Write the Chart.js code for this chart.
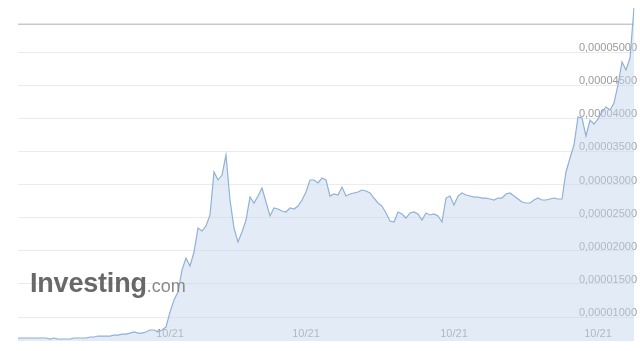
<!DOCTYPE html>
<html>
<head>
<meta charset="utf-8">
<script src="https://cdn.jsdelivr.net/npm/chart.js@4"></script>
<style>
  html, body { margin: 0; padding: 0; background: #fff; }
  #wrap { position: relative; width: 640px; height: 351px; }
  #logo { position: absolute; left: 30px; top: 268px; font-family: "Liberation Sans", Arial, sans-serif; white-space: nowrap; }
  #logo b { font-size: 27px; color: #686868; font-weight: 700; letter-spacing: -0.2px; }
  #logo span { font-size: 18px; color: #8a8a8a; }
</style>
</head>
<body>
<div id="wrap">
  <canvas id="chart"></canvas>
  <div id="logo"><b>Investing</b><span>.com</span></div>
</div>
<script>
// 価格データ（チャートから読み取った値）
const prices = [
  6.83e-6, 6.83e-6, 6.83e-6, 6.83e-6, 6.83e-6, 6.83e-6, 6.83e-6, 6.83e-6, 6.68e-6, 6.83e-6,
  6.68e-6, 6.68e-6, 6.68e-6, 6.68e-6, 6.83e-6, 6.83e-6, 6.83e-6, 6.83e-6, 6.98e-6, 6.98e-6,
  7.13e-6, 7.13e-6, 7.13e-6, 7.13e-6, 7.28e-6, 7.28e-6, 7.43e-6, 7.43e-6, 7.58e-6, 7.74e-6,
  7.58e-6, 7.58e-6, 7.74e-6, 8.04e-6, 8.04e-6, 7.74e-6, 8.04e-6, 8.49e-6, 10.75e-6, 12.57e-6,
  13.77e-6, 17.09e-6, 18.91e-6, 17.70e-6, 19.81e-6, 23.43e-6, 22.98e-6, 23.74e-6, 25.40e-6, 31.89e-6,
  30.68e-6, 31.43e-6, 34.45e-6, 27.66e-6, 23.43e-6, 21.32e-6, 22.83e-6, 24.64e-6, 28.11e-6, 27.21e-6,
  28.26e-6, 29.47e-6, 27.36e-6, 25.25e-6, 26.45e-6, 26.30e-6, 26.00e-6, 25.85e-6, 26.45e-6, 26.30e-6,
  26.75e-6, 27.66e-6, 28.87e-6, 30.68e-6, 30.68e-6, 30.23e-6, 30.98e-6, 30.68e-6, 28.26e-6, 28.57e-6,
  28.42e-6, 29.62e-6, 28.26e-6, 28.57e-6, 28.72e-6, 28.87e-6, 29.17e-6, 29.02e-6, 28.72e-6, 27.96e-6,
  27.21e-6, 26.75e-6, 25.70e-6, 24.49e-6, 24.34e-6, 25.85e-6, 25.55e-6, 24.94e-6, 25.70e-6, 25.85e-6,
  25.55e-6, 24.64e-6, 25.70e-6, 25.40e-6, 25.55e-6, 25.25e-6, 24.34e-6, 27.96e-6, 28.26e-6, 26.91e-6,
  28.26e-6, 28.72e-6, 28.42e-6, 28.26e-6, 28.11e-6, 28.11e-6, 27.96e-6, 27.96e-6, 27.81e-6, 27.66e-6,
  27.96e-6, 27.96e-6, 28.57e-6, 28.72e-6, 28.26e-6, 27.81e-6, 27.36e-6, 27.21e-6, 27.21e-6, 27.66e-6,
  27.96e-6, 27.66e-6, 27.66e-6, 27.81e-6, 27.96e-6, 27.81e-6, 27.81e-6, 31.89e-6, 34.00e-6, 35.96e-6,
  40.19e-6, 40.04e-6, 37.32e-6, 39.73e-6, 39.13e-6, 39.89e-6, 40.94e-6, 41.70e-6, 41.25e-6, 42.30e-6,
  45.02e-6, 48.49e-6, 47.28e-6, 49.09e-6, 56.64e-6
];
// 上部の横線（前回値）
const refLevel = 54.2e-6;
// x軸ラベル
const xTickIndex = [38, 72, 109, 145];
const xTickText = ['10/21', '10/21', '10/21', '10/21'];
// y軸の目盛り
const yTicks = [10e-6, 15e-6, 20e-6, 25e-6, 30e-6, 35e-6, 40e-6, 45e-6, 50e-6];
const yMin = 6.38e-6;
const yMax = 57.85e-6;

const labels = prices.map((p, i) => {
  const k = xTickIndex.indexOf(i);
  return k >= 0 ? xTickText[k] : '';
});

const ctx = document.querySelector('#chart');
new Chart(ctx, {
  type: 'line',
  data: {
    labels: labels,
    datasets: [{
      data: prices,
      borderColor: '#8fb2d6',
      borderWidth: 1.2,
      backgroundColor: 'rgba(200,218,238,0.5)',
      fill: 'start',
      pointRadius: 0,
      tension: 0
    }, {
      data: prices.map(() => refLevel),
      borderColor: '#c9c9c9',
      borderWidth: 1.5,
      fill: false,
      pointRadius: 0
    }]
  },
  options: {
    responsive: true,
    maintainAspectRatio: false,
    animation: false,
    layout: { padding: { left: 18, right: 0, top: 0, bottom: 10 } },
    plugins: { legend: { display: false }, tooltip: { enabled: false } },
    scales: {
      x: {
        grid: { display: false, drawTicks: false },
        border: { display: false },
        ticks: {
          autoSkip: false,
          maxRotation: 0,
          mirror: true,
          padding: 0,
          color: '#9a9a9a',
          font: { family: 'Liberation Sans', size: 11 }
        }
      },
      y: {
        position: 'right',
        min: yMin,
        max: yMax,
        afterBuildTicks: (scale) => { scale.ticks = yTicks.map(v => ({ value: v })); },
        // ラベルのはみ出し分の余白をなくす
        afterFit: (scale) => { scale.paddingTop = 0; scale.paddingBottom = 0; },
        grid: { color: '#ebebeb', drawTicks: false },
        border: { display: false },
        ticks: {
          mirror: true,
          padding: 3,
          labelOffset: -4,
          color: '#9a9a9a',
          font: { family: 'Liberation Sans', size: 11 },
          callback: (v) => v.toFixed(8).replace('.', ',')
        }
      }
    }
  }
});
</script>
</body>
</html>
